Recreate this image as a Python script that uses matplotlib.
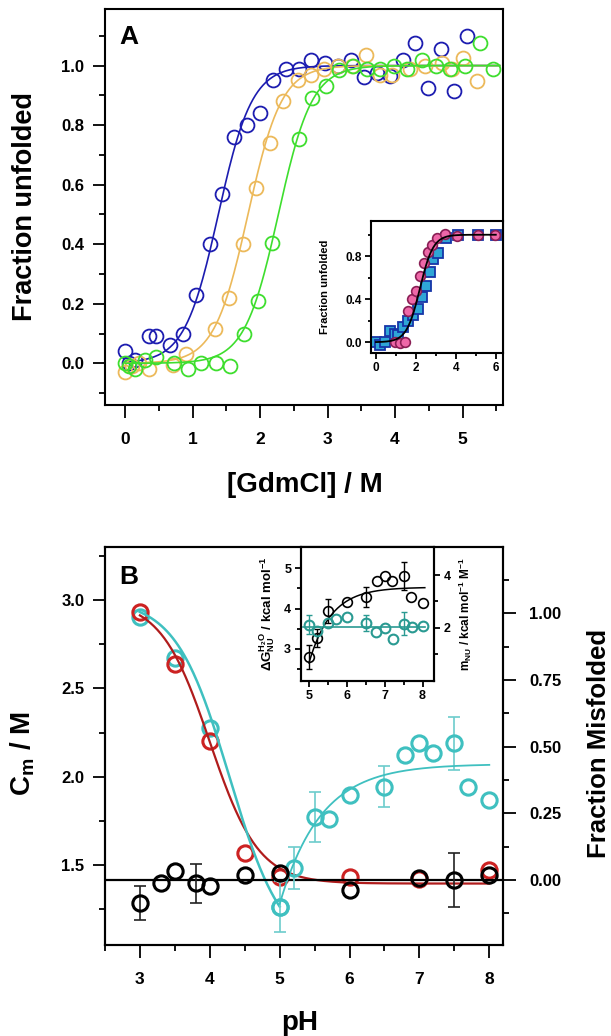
import numpy as np
import matplotlib
matplotlib.use("Agg")
import matplotlib.pyplot as plt
from matplotlib.ticker import MultipleLocator, FixedLocator

plt.rcParams['font.family'] = ['Liberation Sans', 'DejaVu Sans']
plt.rcParams['font.weight'] = 'bold'
plt.rcParams['mathtext.fontset'] = 'custom'
plt.rcParams['mathtext.rm'] = 'Liberation Sans:bold'
plt.rcParams['mathtext.it'] = 'Liberation Sans:bold'
plt.rcParams['mathtext.bf'] = 'Liberation Sans:bold'
plt.rcParams['mathtext.sf'] = 'Liberation Sans:bold'
plt.rcParams['axes.linewidth'] = 1.5

# ---- panel A: GdmCl denaturation ----
gdm_blue = [0.0, 0.06, 0.15, 0.36, 0.46, 0.66, 0.86, 1.05, 1.25, 1.44, 1.61, 1.81, 2.00,
            2.19, 2.39, 2.58, 2.76, 2.96, 3.15, 3.34, 3.54, 3.73, 3.93, 4.12, 4.30, 4.49,
            4.68, 4.87, 5.07]
fu_blue = [0.04, 0.0, 0.01, 0.09, 0.09, 0.06, 0.10, 0.23, 0.40, 0.57, 0.76, 0.80, 0.84,
           0.95, 0.99, 0.99, 1.02, 1.01, 1.00, 1.02, 0.96, 0.975, 0.965, 1.02, 1.075, 0.925,
           1.055, 0.915, 1.10]
gdm_orange = [0.0, 0.1, 0.2, 0.36, 0.71, 0.905, 1.33, 1.54, 1.745, 1.94, 2.14, 2.34, 2.56,
              2.76, 2.95, 3.15, 3.36, 3.57, 3.77, 3.95, 4.22, 4.45, 4.70, 4.85, 5.01, 5.21]
fu_orange = [-0.03, -0.01, 0.0, -0.02, -0.005, 0.03, 0.115, 0.22, 0.40, 0.59, 0.74, 0.88, 0.95,
             0.97, 0.99, 1.0, 1.0, 1.035, 0.97, 0.97, 0.99, 1.0, 1.01, 0.99, 1.025, 0.947]
gdm_green = [0.0, 0.06, 0.15, 0.30, 0.46, 0.72, 0.93, 1.13, 1.34, 1.55, 1.755, 1.97, 2.17,
             2.58, 2.77, 2.98, 3.17, 3.37, 3.58, 3.78, 3.98, 4.18, 4.40, 4.60, 4.82, 5.03,
             5.26, 5.45]
fu_green = [0.0, -0.01, -0.02, 0.01, 0.02, 0.0, -0.02, 0.0, 0.0, -0.01, 0.10, 0.21, 0.405,
            0.755, 0.89, 0.93, 0.985, 1.0, 0.99, 0.99, 1.0, 0.99, 1.02, 1.0, 0.99, 1.0,
            1.075, 0.99]
# two-state fit: midpoint (M) and steepness (1/M)
fit_cm = {'blue': 1.38, 'orange': 1.82, 'green': 2.27}
fit_k = 4.0

# inset A
ins_sq_x = [0.0, 0.2, 0.45, 0.7, 0.95, 1.1, 1.37, 1.6, 1.87, 2.12, 2.3, 2.5, 2.7, 2.87,
            3.12, 3.5, 4.13, 5.1, 6.0]
ins_sq_y = [0.0, -0.03, 0.0, 0.1, 0.08, 0.07, 0.145, 0.2, 0.254, 0.31, 0.42, 0.52, 0.65,
            0.77, 0.83, 0.97, 1.0, 1.0, 1.0]
ins_ci_x = [0.95, 1.2, 1.45, 1.6, 1.8, 2.0, 2.2, 2.42, 2.62, 2.79, 3.04, 3.46, 4.04, 5.13, 5.96]
ins_ci_y = [0.0, -0.01, 0.0, 0.29, 0.40, 0.48, 0.62, 0.735, 0.84, 0.905, 0.97, 1.01, 0.985,
            1.0, 1.0]
ins_cm, ins_k = 2.2, 3.0

# ---- panel B: pH dependence ----
red_ph = [3.0, 3.5, 4.0, 4.5, 5.0, 6.0, 7.0, 8.0]
red_cm = [2.93, 2.64, 2.20, 1.57, 1.43, 1.43, 1.42, 1.47]
cyan_ph = [3.0, 3.5, 4.0]
cyan_cm = [2.905, 2.67, 2.277]
mis_ph = [5.0, 5.2, 5.5, 5.7, 6.0, 6.5, 6.8, 7.0, 7.2, 7.5, 7.7, 8.0]
mis_fr = [-0.10, 0.044, 0.237, 0.23, 0.319, 0.35, 0.469, 0.513, 0.475, 0.513, 0.35, 0.30]
mis_err = [0.095, 0.078, 0.094, 0, 0, 0.078, 0, 0, 0, 0.1, 0, 0]
blk_ph = [3.0, 3.3, 3.5, 3.8, 4.0, 4.5, 5.0, 6.0, 7.0, 7.5, 8.0]
blk_fr = [-0.087, -0.012, 0.034, -0.012, -0.022, 0.019, 0.027, -0.037, 0.006, 0.0, 0.019]
blk_err = [0.063, 0, 0, 0.073, 0, 0, 0, 0, 0, 0.1, 0]

# inset B
dg_ph = [5.0, 5.22, 5.5, 6.0, 6.5, 6.8, 7.0, 7.2, 7.5, 7.7, 8.0]
dg_val = [2.79, 3.27, 3.93, 4.17, 4.28, 4.69, 4.81, 4.69, 4.81, 4.28, 4.13]
dg_err = [0.30, 0.22, 0.30, 0, 0.25, 0, 0, 0, 0.35, 0, 0]
m_ph = [5.0, 5.22, 5.5, 5.71, 6.0, 6.5, 6.78, 7.0, 7.22, 7.5, 7.71, 8.0]
m_val = [2.12, 1.87, 2.19, 2.34, 2.41, 2.19, 1.84, 2.0, 1.56, 2.16, 2.04, 2.06]
m_err = [0.37, 0, 0, 0, 0, 0.3, 0, 0, 0, 0.45, 0, 0]
m_mean = 2.03

c_blue, c_orange, c_green = '#1c1cb0', '#ecb95a', '#3ede2e'
c_red, c_cyan, c_teal = '#cc2222', '#3fc0c0', '#2a9a92'


def sigmoid(x, cm, k):
    return 1.0 / (1.0 + np.exp(-k * (x - cm)))


def style(ax, major, minor, size=12):
    ax.tick_params(which='major', direction='out', length=major, width=1.3, labelsize=size)
    ax.tick_params(which='minor', direction='out', length=minor, width=1.3)


fig = plt.figure(figsize=(6.11, 10.36), dpi=100)

# panel A
ax = fig.add_axes([0.1718, 0.6091, 0.6514, 0.3822])
xs = np.linspace(0, 5.55, 300)
for gx, gy, col, key in [(gdm_blue, fu_blue, c_blue, 'blue'),
                         (gdm_orange, fu_orange, c_orange, 'orange'),
                         (gdm_green, fu_green, c_green, 'green')]:
    ax.plot(gx, gy, 'o', mfc='none', mec=col, ms=10, mew=1.3)
    ax.plot(xs, sigmoid(xs, fit_cm[key], fit_k), color=col, lw=1.2)
ax.set_xlim(-0.3, 5.6)
ax.set_ylim(-0.14, 1.19)
ax.xaxis.set_major_locator(MultipleLocator(1))
ax.xaxis.set_minor_locator(FixedLocator([0.5, 1.5, 2.5, 3.5, 4.5, 5.5]))
ax.yaxis.set_major_locator(FixedLocator([0, 0.2, 0.4, 0.6, 0.8, 1.0]))
ax.yaxis.set_minor_locator(FixedLocator([-0.1, 0.1, 0.3, 0.5, 0.7, 0.9, 1.1]))
ax.yaxis.set_major_formatter(plt.FormatStrFormatter('%.1f'))
style(ax, 9, 4.5)
ax.tick_params(axis='x', labelsize=12.5, pad=10.5)
ax.tick_params(axis='y', labelsize=12, pad=6)
ax.set_ylabel('Fraction unfolded', fontsize=19.5, fontweight='bold')
ax.yaxis.set_label_coords(-0.168, 0.5)
ax.set_xlabel('[GdmCl] / M', fontsize=20, fontweight='bold')
ax.xaxis.set_label_coords(0.5025, -0.169)
ax.text(0.06, 0.929, 'A', transform=ax.transAxes, fontsize=19, fontweight='bold',
        ha='center', va='center')

# inset A
axi = fig.add_axes([0.6072, 0.6593, 0.216, 0.1274])
axi.plot(ins_sq_x, ins_sq_y, 's', mfc='#2fa6d6', mec='#1636a8', ms=6.5, mew=1.3)
axi.plot(ins_ci_x, ins_ci_y, 'o', mfc='#ee68a8', mec='#8a1f55', ms=7, mew=1.2)
xi = np.linspace(0, 6, 200)
axi.plot(xi, sigmoid(xi, ins_cm, ins_k), color='black', lw=1.3)
axi.set_xlim(-0.25, 6.36)
axi.set_ylim(-0.1, 1.128)
axi.xaxis.set_major_locator(MultipleLocator(2))
axi.xaxis.set_minor_locator(FixedLocator([1, 3, 5]))
axi.yaxis.set_major_locator(FixedLocator([0, 0.4, 0.8]))
axi.yaxis.set_minor_locator(FixedLocator([0.2, 0.6, 1.0]))
axi.yaxis.set_major_formatter(plt.FormatStrFormatter('%.1f'))
style(axi, 4.5, 2.5, size=8.5)
axi.tick_params(pad=2)
axi.set_ylabel('Fraction unfolded', fontsize=8, fontweight='bold')
axi.yaxis.set_label_coords(-0.31, 0.5)

# panel B
axb = fig.add_axes([0.1718, 0.0878, 0.6514, 0.3842])
axr = axb.twinx()
axb.plot(cyan_ph + [5.0], cyan_cm + [1.264], 'o', mfc='none', mec=c_cyan, ms=11, mew=2.2)
axb.plot(red_ph, red_cm, 'o', mfc='none', mec=c_red, ms=11, mew=2.2)
ph1 = np.linspace(3, 8, 300)
axb.plot(ph1, 1.395 + 1.605 / (1 + np.exp((ph1 - 4.0) / 0.35)), color='#b01c1c', lw=1.6)
ph2 = np.linspace(3, 5.0, 150)
axb.plot(ph2, 1.0 + 2.0 / (1 + np.exp((ph2 - 4.28) / 0.383)), color=c_cyan, lw=1.8)
axb.set_xlim(2.5, 8.196)
axb.set_ylim(1.047, 3.30)
axb.xaxis.set_major_locator(MultipleLocator(1))
axb.xaxis.set_minor_locator(FixedLocator([2.5, 3.5, 4.5, 5.5, 6.5, 7.5]))
axb.yaxis.set_major_locator(FixedLocator([1.5, 2.0, 2.5, 3.0]))
axb.yaxis.set_minor_locator(FixedLocator([1.25, 1.75, 2.25, 2.75, 3.25]))
axb.yaxis.set_major_formatter(plt.FormatStrFormatter('%.1f'))
style(axb, 9, 4.5)
axb.tick_params(axis='x', labelsize=12.5, pad=10.5)
axb.tick_params(axis='y', labelsize=12, pad=6)
axb.set_ylabel('C$_\\mathregular{m}$ / M', fontsize=20, fontweight='bold')
axb.yaxis.set_label_coords(-0.171, 0.48)
axb.set_xlabel('pH', fontsize=20, fontweight='bold')
axb.xaxis.set_label_coords(0.49, -0.163)
axb.text(0.06, 0.925, 'B', transform=axb.transAxes, fontsize=19, fontweight='bold',
         ha='center', va='center')

mis_ph_a, mis_fr_a, mis_err_a = map(np.array, (mis_ph, mis_fr, mis_err))
blk_ph_a, blk_fr_a, blk_err_a = map(np.array, (blk_ph, blk_fr, blk_err))
axr.axhline(0, color='black', lw=1.6)
sel = mis_err_a > 0
axr.errorbar(mis_ph_a[sel], mis_fr_a[sel], yerr=mis_err_a[sel], fmt='none',
             ecolor='#6ccccc', elinewidth=1.2, capsize=4, capthick=1.2)
axr.plot(mis_ph_a, mis_fr_a, 'o', mfc='none', mec=c_cyan, ms=11, mew=2.2)
ph3 = np.linspace(5.0, 8.0, 200)
axr.plot(ph3, 0.435 - 0.525 * np.exp(-1.7 * (ph3 - 5.0)), color=c_cyan, lw=1.3)
sel = blk_err_a > 0
axr.errorbar(blk_ph_a[sel], blk_fr_a[sel], yerr=blk_err_a[sel], fmt='none',
             ecolor='#222222', elinewidth=1.2, capsize=4, capthick=1.2)
axr.plot(blk_ph_a, blk_fr_a, 'o', mfc='none', mec='black', ms=11, mew=2.2)
axr.set_ylim(-0.244, 1.249)
axr.yaxis.set_major_locator(FixedLocator([0, 0.25, 0.5, 0.75, 1.0]))
axr.yaxis.set_minor_locator(FixedLocator([-0.125, 0.125, 0.375, 0.625, 0.875, 1.125]))
axr.yaxis.set_major_formatter(plt.FormatStrFormatter('%.2f'))
style(axr, 9, 4.5)
axr.tick_params(axis='y', labelsize=12, pad=10)
axr.set_ylabel('Fraction Misfolded', fontsize=18.5, fontweight='bold', rotation=90)
axr.yaxis.set_label_coords(1.212, 0.507)

# inset B
axg = fig.add_axes([0.4926, 0.343, 0.2182, 0.129])
axm = axg.twinx()
dg_ph_a, dg_val_a, dg_err_a = map(np.array, (dg_ph, dg_val, dg_err))
sel = dg_err_a > 0
axg.errorbar(dg_ph_a[sel], dg_val_a[sel], yerr=dg_err_a[sel], fmt='none',
             ecolor='black', elinewidth=1.0, capsize=2.5, capthick=1.0)
axg.plot(dg_ph_a, dg_val_a, 'o', mfc='none', mec='black', ms=7, mew=1.2)
ph4 = np.linspace(5.0, 8.06, 200)
axg.plot(ph4, 4.53 - 1.88 * np.exp(-1.7 * (ph4 - 5.0)), color='black', lw=1.1)
axg.set_xlim(4.79, 8.31)
axg.set_ylim(2.21, 5.53)
axg.xaxis.set_major_locator(MultipleLocator(1))
axg.xaxis.set_minor_locator(FixedLocator([5.5, 6.5, 7.5]))
axg.yaxis.set_major_locator(FixedLocator([3, 4, 5]))
axg.yaxis.set_minor_locator(FixedLocator([2.5, 3.5, 4.5]))
style(axg, 4.5, 3, size=9)
axg.tick_params(pad=2.5)
axg.set_ylabel('$\\Delta$G$^{\\mathregular{H_2O}}_{\\mathregular{NU}}$ / kcal mol$^{\\mathregular{-1}}$',
               fontsize=9.5, fontweight='bold')
axg.yaxis.set_label_coords(-0.18, 0.5)

m_ph_a, m_val_a, m_err_a = map(np.array, (m_ph, m_val, m_err))
sel = m_err_a > 0
axm.errorbar(m_ph_a[sel], m_val_a[sel], yerr=m_err_a[sel], fmt='none',
             ecolor=c_teal, elinewidth=1.0, capsize=2.5, capthick=1.0)
axm.plot(m_ph_a, m_val_a, 'o', mfc='none', mec=c_teal, ms=7, mew=1.5)
axm.plot([4.85, 8.06], [m_mean, m_mean], color=c_teal, lw=1.2)
axm.set_ylim(0.0, 5.06)
axm.yaxis.set_major_locator(FixedLocator([2, 4]))
axm.yaxis.set_minor_locator(FixedLocator([1, 3]))
style(axm, 4.5, 3, size=9)
axm.tick_params(pad=2.5)
axm.set_ylabel('m$_{\\mathregular{NU}}$ / kcal mol$^{\\mathregular{-1}}$ M$^{\\mathregular{-1}}$',
               fontsize=8.5, fontweight='bold', rotation=90)
axm.yaxis.set_label_coords(1.17, 0.5)

fig.savefig('out.png', dpi=100)
